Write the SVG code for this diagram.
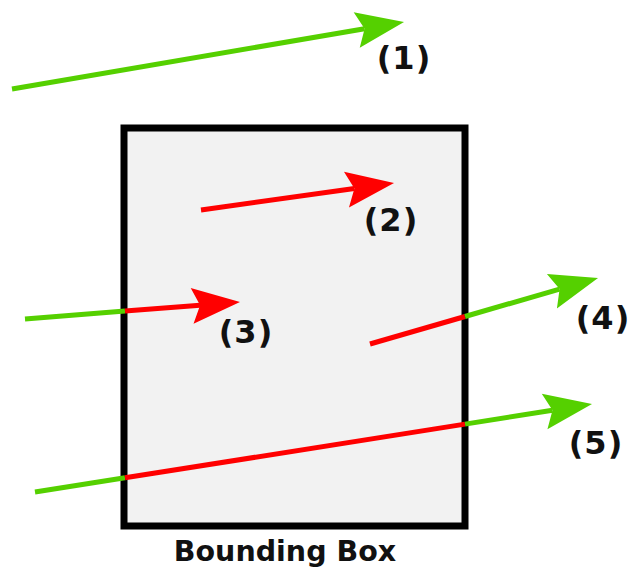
<svg xmlns="http://www.w3.org/2000/svg" width="630" height="568" viewBox="0 0 630 568">
<style>
.lbl{font-family:"DejaVu Sans","Verdana",sans-serif;font-weight:bold;font-size:32px;fill:#111;text-anchor:middle;letter-spacing:1px}
.cap{font-family:"DejaVu Sans","Verdana",sans-serif;font-weight:bold;font-size:28.5px;fill:#111;text-anchor:middle}
.g{stroke:#55d000;stroke-width:5;fill:none}
.r{stroke:#ff0000;stroke-width:5;fill:none}
</style>
<defs>
<marker id="ag" markerUnits="userSpaceOnUse" markerWidth="60" markerHeight="50" refX="0" refY="0" orient="auto" overflow="visible">
<path d="M40,0 L-8,-18 L0,0 L-8,18 Z" fill="#55d000"/>
</marker>
<marker id="ar" markerUnits="userSpaceOnUse" markerWidth="60" markerHeight="50" refX="0" refY="0" orient="auto" overflow="visible">
<path d="M40,0 L-8,-18 L0,0 L-8,18 Z" fill="#ff0000"/>
</marker>
</defs>
<rect width="630" height="568" fill="#ffffff"/>
<g id="bbox">
<rect x="124" y="128" width="341" height="398" fill="#f2f2f2" stroke="#000" stroke-width="7"/>
<text class="cap" x="285" y="561">Bounding Box</text>
</g>
<g id="connectors">
<g id="arrow1">
<line class="g" x1="12" y1="89" x2="364.6" y2="28.7" marker-end="url(#ag)"/>
</g>
<g id="arrow2">
<line class="r" x1="201" y1="210" x2="354.4" y2="188.5" marker-end="url(#ar)"/>
</g>
<g id="arrow3">
<line class="g" x1="25" y1="319" x2="125" y2="311.1"/>
<line class="r" x1="125" y1="311.1" x2="200.1" y2="305.2" marker-end="url(#ar)"/>
</g>
<g id="arrow4">
<line class="r" x1="370" y1="344" x2="465" y2="316.5"/>
<line class="g" x1="465" y1="316.5" x2="559.6" y2="289.1" marker-end="url(#ag)"/>
</g>
<g id="arrow5">
<line class="g" x1="35" y1="492" x2="125" y2="477.8"/>
<line class="r" x1="125" y1="477.8" x2="465" y2="424.1"/>
<line class="g" x1="465" y1="424.1" x2="552.5" y2="410.2" marker-end="url(#ag)"/>
</g>
</g>
<g id="labels">
<text class="lbl" x="404" y="69">(1)</text>
<text class="lbl" x="391" y="231">(2)</text>
<text class="lbl" x="246" y="343">(3)</text>
<text class="lbl" x="603" y="329">(4)</text>
<text class="lbl" x="596" y="454">(5)</text>
</g>
</svg>
